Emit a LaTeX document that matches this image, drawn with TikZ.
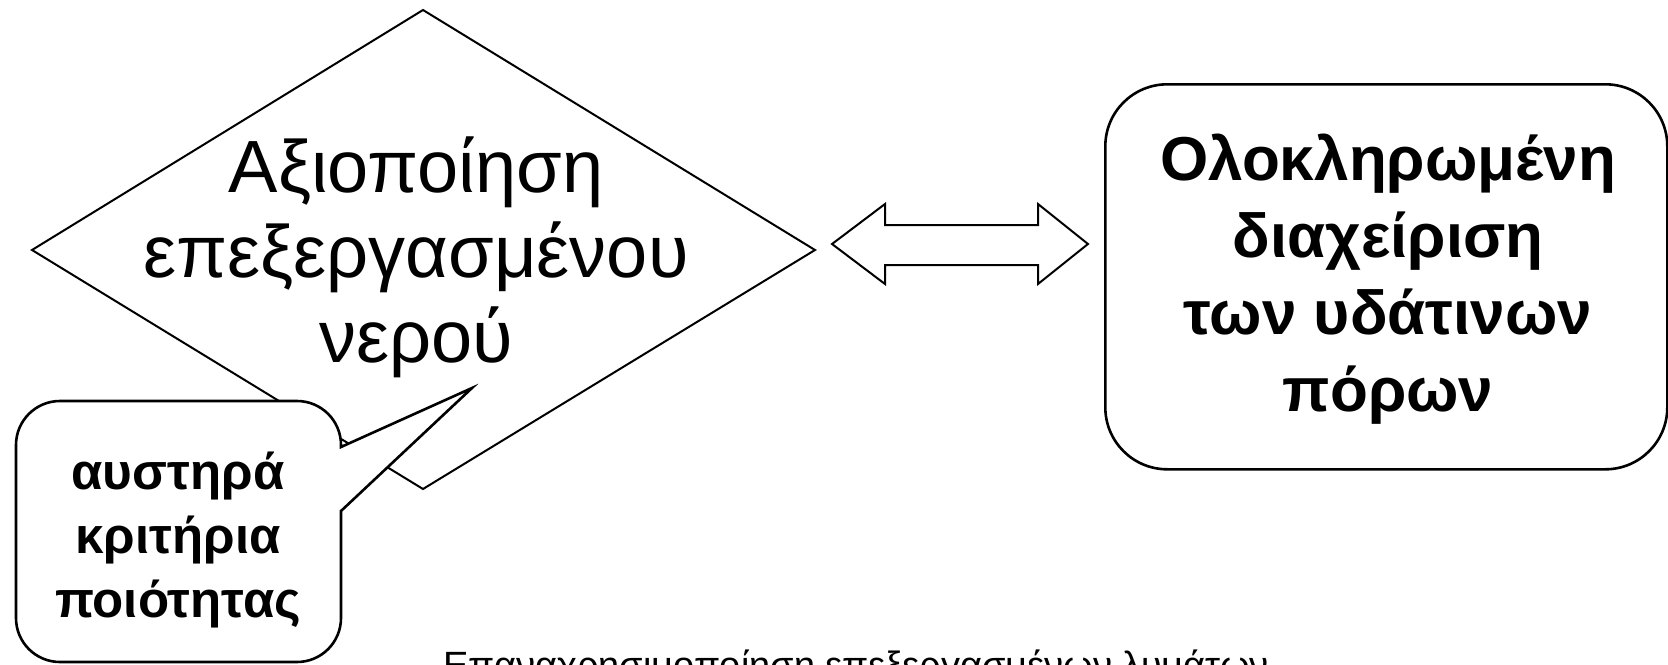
\documentclass[tikz,border=0pt]{standalone}
\usepackage{fontspec}
\setmainfont{Liberation Sans}
\usetikzlibrary{shapes.geometric}
\tikzset{
  outline/.style={draw=black, line width=2pt, line join=miter},
  boxline/.style={draw=black, line width=2.6pt},
  bigtext/.style={font=\fontsize{74}{85}\selectfont, align=center, inner sep=0pt},
  boldtext/.style={font=\bfseries\fontsize{62}{77}\selectfont, align=center, inner sep=0pt},
  calltext/.style={font=\bfseries\fontsize{51}{64}\selectfont, align=center, inner sep=0pt},
}
\begin{document}
\begin{tikzpicture}[x=1pt,y=-1pt]
\useasboundingbox (0,0) rectangle (1668,664);
\fill[white] (0,0) rectangle (1668,664);
% diamond
\coordinate (dT) at (423,10);
\coordinate (dR) at (815,250);
\coordinate (dB) at (423,489);
\coordinate (dL) at (32,250);
\draw[outline, fill=white] (dT) -- (dR) -- (dB) -- (dL) -- cycle;
\node[bigtext] (diatext) at (416,257) {Αξιοποίηση\\επεξεργασμένου\\νερού};
% double arrow
\draw[outline, fill=white] (832,244) -- (885,204) -- (885,225) -- (1038,225) -- (1038,204)
  -- (1088,244) -- (1038,284) -- (1038,265) -- (885,265) -- (885,284) -- cycle;
% right box
\node[boxline, rounded corners=62pt, minimum width=562pt, minimum height=385pt, inner sep=0pt, anchor=north west] (box) at (1104,83) {};
\node[boldtext] (boxtext) at (1388,279) {Ολοκληρωμένη\\διαχείριση\\των υδάτινων\\πόρων};
% callout
\draw[boxline, fill=white] (60,401) -- (297,401)
  .. controls (321.3,401) and (341,420.7) .. (341,445) -- (341,447)
  -- (472,388) -- (341,511) -- (341,618)
  .. controls (341,642.3) and (321.3,662) .. (297,662) -- (60,662)
  .. controls (35.7,662) and (16,642.3) .. (16,618) -- (16,445)
  .. controls (16,420.7) and (35.7,401) .. (60,401) -- cycle;
\node[calltext] (calltext) at (178,540) {αυστηρά\\κριτήρια\\ποιότητας};
% bottom caption (cut off by page edge)
\node[font=\fontsize{38}{44}\selectfont, inner sep=0pt, anchor=base west] (caption) at (443,678) {Επαναχρησιμοποίηση επεξεργασμένων λυμάτων};
\end{tikzpicture}
\end{document}
